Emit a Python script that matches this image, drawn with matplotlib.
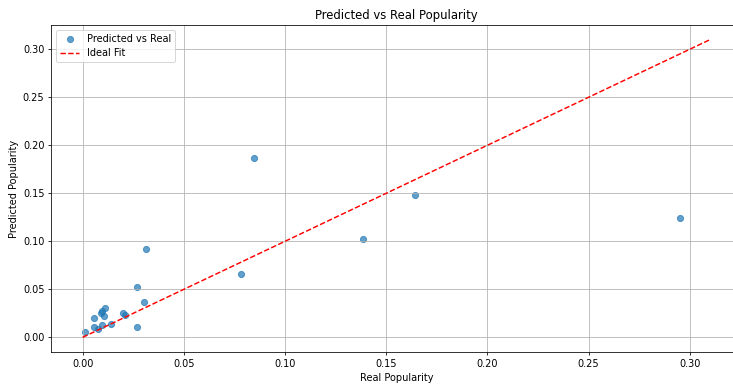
import matplotlib.pyplot as plt

# real vs predicted popularity for the test set
real_popularity = [0.0012, 0.0056, 0.0056, 0.0076, 0.0097, 0.0091, 0.0094, 0.0107,
                   0.0110, 0.0142, 0.0198, 0.0208, 0.0267, 0.0270, 0.0303, 0.0313,
                   0.0781, 0.0849, 0.1383, 0.1643, 0.2952]
predicted_popularity = [0.0052, 0.0198, 0.0104, 0.0087, 0.0125, 0.0253, 0.0274, 0.0219,
                        0.0306, 0.0135, 0.0250, 0.0233, 0.0111, 0.0524, 0.0365, 0.0917,
                        0.0660, 0.1870, 0.1024, 0.1483, 0.1240]
ideal_range = [0.0, 0.31]

DPI = 70
W, H = 733, 390

fig = plt.figure(figsize=(W / DPI, H / DPI), dpi=DPI)
# axes runs a little past the right edge of the canvas
ax = fig.add_axes([51.3 / W, 1 - 352.2 / H, 690 / W, 327.4 / H])

ax.scatter(real_popularity, predicted_popularity, alpha=0.7, s=40, label="Predicted vs Real")
ax.plot(ideal_range, ideal_range, "r--", label="Ideal Fit")

ax.set_title("Predicted vs Real Popularity")
ax.set_xlabel("Real Popularity")
ax.set_ylabel("Predicted Popularity")
ax.legend(loc="upper left")
ax.grid(True)

fig.savefig("out.png", dpi=DPI)
